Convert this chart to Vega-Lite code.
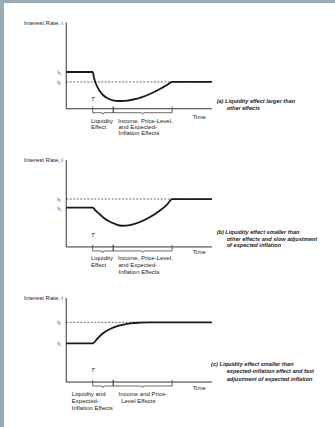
{
  "$schema": "https://vega.github.io/schema/vega-lite/v6.json",
  "background": "#9aabb5",
  "padding": {"left": 4, "top": 3, "right": 0, "bottom": 0},
  "spacing": 0,
  "bounds": "flush",
  "config": {
    "view": {"fill": "white", "stroke": null},
    "text": {"font": "Liberation Sans", "fontSize": 6, "color": "#222"}
  },
  "datasets": {
    "curves": [
      {"p": "a", "t": 0, "r": 4.17}, {"p": "a", "t": 2.0, "r": 4.17}, {"p": "a", "t": 2.1, "r": 3.49},
      {"p": "a", "t": 2.25, "r": 2.81}, {"p": "a", "t": 2.48, "r": 2.13}, {"p": "a", "t": 2.78, "r": 1.56},
      {"p": "a", "t": 3.16, "r": 1.16}, {"p": "a", "t": 3.53, "r": 0.96}, {"p": "a", "t": 3.91, "r": 0.88},
      {"p": "a", "t": 4.43, "r": 0.9}, {"p": "a", "t": 5.05, "r": 1.05}, {"p": "a", "t": 5.72, "r": 1.33},
      {"p": "a", "t": 6.4, "r": 1.73}, {"p": "a", "t": 7.08, "r": 2.24}, {"p": "a", "t": 7.61, "r": 2.7},
      {"p": "a", "t": 8.0, "r": 3.04}, {"p": "a", "t": 11, "r": 3.04},
      {"p": "b", "t": 0, "r": 4.42}, {"p": "b", "t": 2.0, "r": 4.42}, {"p": "b", "t": 2.25, "r": 4.05},
      {"p": "b", "t": 2.55, "r": 3.66}, {"p": "b", "t": 2.85, "r": 3.26}, {"p": "b", "t": 3.16, "r": 2.95},
      {"p": "b", "t": 3.69, "r": 2.59}, {"p": "b", "t": 4.21, "r": 2.39}, {"p": "b", "t": 4.82, "r": 2.47},
      {"p": "b", "t": 5.57, "r": 2.81}, {"p": "b", "t": 6.33, "r": 3.37}, {"p": "b", "t": 7.08, "r": 4.11},
      {"p": "b", "t": 7.61, "r": 4.78}, {"p": "b", "t": 8.0, "r": 5.4}, {"p": "b", "t": 11, "r": 5.4},
      {"p": "c", "t": 0, "r": 4.4}, {"p": "c", "t": 2.02, "r": 4.4}, {"p": "c", "t": 2.33, "r": 4.89},
      {"p": "c", "t": 2.7, "r": 5.45}, {"p": "c", "t": 3.31, "r": 6.02}, {"p": "c", "t": 4.06, "r": 6.42},
      {"p": "c", "t": 4.82, "r": 6.65}, {"p": "c", "t": 5.57, "r": 6.74}, {"p": "c", "t": 6.33, "r": 6.78},
      {"p": "c", "t": 11, "r": 6.78}
    ],
    "axes": [
      {"p": "a", "o": 1, "t": 0, "r": 9.8}, {"p": "a", "o": 2, "t": 0, "r": 0}, {"p": "a", "o": 3, "t": 11, "r": 0},
      {"p": "b", "o": 1, "t": 0, "r": 9.8}, {"p": "b", "o": 2, "t": 0, "r": 0}, {"p": "b", "o": 3, "t": 11, "r": 0},
      {"p": "c", "o": 1, "t": 0, "r": 9.54}, {"p": "c", "o": 2, "t": 0, "r": 0}, {"p": "c", "o": 3, "t": 11, "r": 0}
    ],
    "expected": [
      {"p": "a", "t": 0, "t2": 11, "r": 3.04},
      {"p": "b", "t": 0, "t2": 11, "r": 5.4},
      {"p": "c", "t": 0, "t2": 11, "r": 6.78}
    ],
    "braces": [
      {"b": 1, "o": 1, "t": 2.0, "r": 0.25}, {"b": 1, "o": 2, "t": 2.0, "r": -0.45},
      {"b": 1, "o": 3, "t": 2.7, "r": -0.45}, {"b": 1, "o": 4, "t": 2.775, "r": -0.62},
      {"b": 1, "o": 5, "t": 2.85, "r": -0.45}, {"b": 1, "o": 6, "t": 3.55, "r": -0.45},
      {"b": 1, "o": 7, "t": 3.55, "r": 0.25},
      {"b": 2, "o": 1, "t": 3.55, "r": 0.25}, {"b": 2, "o": 2, "t": 3.55, "r": -0.45},
      {"b": 2, "o": 3, "t": 5.7, "r": -0.45}, {"b": 2, "o": 4, "t": 5.775, "r": -0.62},
      {"b": 2, "o": 5, "t": 5.85, "r": -0.45}, {"b": 2, "o": 6, "t": 8.0, "r": -0.45},
      {"b": 2, "o": 7, "t": 8.0, "r": 0.25}
    ],
    "notes": [
      {"p": "a", "k": "title", "t": -0.25, "r": 9.75, "txt": "Interest Rate, i"},
      {"p": "a", "k": "level", "t": -0.4, "r": 4.17, "txt": "i₁"},
      {"p": "a", "k": "level", "t": -0.4, "r": 3.04, "txt": "i₂"},
      {"p": "a", "k": "T", "t": 2.0, "r": 1.15, "txt": "T"},
      {"p": "a", "k": "time", "t": 9.55, "r": -0.9, "txt": "Time"},
      {"p": "a", "k": "lab", "t": 1.87, "r": -1.4, "txt": "Liquidity"},
      {"p": "a", "k": "lab", "t": 1.87, "r": -2.1, "txt": "Effect"},
      {"p": "a", "k": "lab", "t": 3.91, "r": -1.4, "txt": "Income, Price-Level,"},
      {"p": "a", "k": "lab", "t": 3.95, "r": -2.1, "txt": "and Expected-"},
      {"p": "a", "k": "lab", "t": 3.95, "r": -2.8, "txt": "Inflation Effects"},
      {"p": "a", "k": "cap", "t": 11.36, "r": 0.88, "txt": "(a) Liquidity effect larger than"},
      {"p": "a", "k": "cap", "t": 12.12, "r": 0.09, "txt": "other effects"},
      {"p": "b", "k": "title", "t": -0.25, "r": 9.85, "txt": "Interest Rate, i"},
      {"p": "b", "k": "level", "t": -0.4, "r": 4.42, "txt": "i₁"},
      {"p": "b", "k": "level", "t": -0.4, "r": 5.4, "txt": "i₂"},
      {"p": "b", "k": "T", "t": 2.0, "r": 1.35, "txt": "T"},
      {"p": "b", "k": "time", "t": 9.55, "r": -0.6, "txt": "Time"},
      {"p": "b", "k": "lab", "t": 1.87, "r": -1.3, "txt": "Liquidity"},
      {"p": "b", "k": "lab", "t": 1.87, "r": -2.05, "txt": "Effect"},
      {"p": "b", "k": "lab", "t": 3.91, "r": -1.3, "txt": "Income, Price-Level,"},
      {"p": "b", "k": "lab", "t": 3.95, "r": -2.05, "txt": "and Expected-"},
      {"p": "b", "k": "lab", "t": 3.95, "r": -2.8, "txt": "Inflation Effects"},
      {"p": "b", "k": "cap", "t": 11.36, "r": 1.68, "txt": "(b) Liquidity effect smaller than"},
      {"p": "b", "k": "cap", "t": 12.12, "r": 0.95, "txt": "other effects and slow adjustment"},
      {"p": "b", "k": "cap", "t": 12.12, "r": 0.22, "txt": "of expected inflation"},
      {"p": "c", "k": "title", "t": -0.25, "r": 9.5, "txt": "Interest Rate, i"},
      {"p": "c", "k": "level", "t": -0.4, "r": 4.4, "txt": "i₁"},
      {"p": "c", "k": "level", "t": -0.4, "r": 6.78, "txt": "i₂"},
      {"p": "c", "k": "T", "t": 2.0, "r": 1.37, "txt": "T"},
      {"p": "c", "k": "time", "t": 9.55, "r": -0.65, "txt": "Time"},
      {"p": "c", "k": "lab", "t": 0.42, "r": -1.35, "txt": "Liquidity and"},
      {"p": "c", "k": "lab", "t": 0.42, "r": -2.15, "txt": "Expected-"},
      {"p": "c", "k": "lab", "t": 0.42, "r": -2.95, "txt": "Inflation Effects"},
      {"p": "c", "k": "lab", "t": 3.95, "r": -1.35, "txt": "Income and Price-"},
      {"p": "c", "k": "lab", "t": 4.15, "r": -2.15, "txt": "Level Effects"},
      {"p": "c", "k": "cap", "t": 10.94, "r": 2.05, "txt": "(c) Liquidity effect smaller than"},
      {"p": "c", "k": "cap", "t": 12.12, "r": 1.2, "txt": "expected-inflation effect and fast"},
      {"p": "c", "k": "cap", "t": 12.12, "r": 0.4, "txt": "adjustment of expected inflation"}
    ]
  },
  "vconcat": [
    {
      "width": 331,
      "height": 141,
      "encoding": {
        "x": {"field": "t", "type": "quantitative", "scale": {"domain": [-4.7, 20.3], "nice": false, "zero": false}, "axis": null},
        "y": {"field": "r", "type": "quantitative", "scale": {"domain": [-4, 12], "nice": false, "zero": false}, "axis": null}
      },
      "layer": [
        {"data": {"values": [{}]}, "mark": {"type": "rule", "color": "#111", "strokeWidth": 1.3},
         "encoding": {"x": {"datum": -4.6}, "y": {"datum": -4}, "y2": {"datum": 12}}},
        {"data": {"values": [{}]}, "mark": {"type": "rule", "color": "#111", "strokeWidth": 1.2},
         "encoding": {"x": {"datum": -4.7}, "x2": {"datum": 20.3}, "y": {"datum": 11.93}}},
        {"data": {"name": "expected"}, "transform": [{"filter": "datum.p === 'a'"}],
         "mark": {"type": "rule", "color": "#444", "strokeWidth": 0.8, "strokeDash": [2, 1.5]},
         "encoding": {"x2": {"field": "t2"}}},
        {"data": {"name": "axes"}, "transform": [{"filter": "datum.p === 'a'"}],
         "mark": {"type": "line", "color": "#333", "strokeWidth": 1},
         "encoding": {"order": {"field": "o"}}},
        {"data": {"name": "braces"},
         "mark": {"type": "line", "color": "#444", "strokeWidth": 0.8},
         "encoding": {"detail": {"field": "b"}, "order": {"field": "o"}}},
        {"data": {"name": "curves"}, "transform": [{"filter": "datum.p === 'a'"}],
         "mark": {"type": "line", "color": "#1a1a1a", "strokeWidth": 1.8, "interpolate": "monotone"},
         "encoding": {}},
        {"data": {"name": "notes"}, "transform": [{"filter": "datum.p === 'a' && (datum.k === 'title' || datum.k === 'level')"}],
         "mark": {"type": "text", "align": "right", "baseline": "middle"},
         "encoding": {"text": {"field": "txt"}}},
        {"data": {"name": "notes"}, "transform": [{"filter": "datum.p === 'a' && datum.k === 'T'"}],
         "mark": {"type": "text", "align": "center", "baseline": "middle", "fontStyle": "italic"},
         "encoding": {"text": {"field": "txt"}}},
        {"data": {"name": "notes"}, "transform": [{"filter": "datum.p === 'a' && (datum.k === 'lab' || datum.k === 'time')"}],
         "mark": {"type": "text", "align": "left", "baseline": "middle"},
         "encoding": {"text": {"field": "txt"}}},
        {"data": {"name": "notes"}, "transform": [{"filter": "datum.p === 'a' && datum.k === 'cap'"}],
         "mark": {"type": "text", "align": "left", "baseline": "middle", "fontStyle": "italic", "fontWeight": "bold", "fontSize": 5.6},
         "encoding": {"text": {"field": "txt"}}}
      ]
    },
    {
      "width": 331,
      "height": 142,
      "encoding": {
        "x": {"field": "t", "type": "quantitative", "scale": {"domain": [-4.7, 20.3], "nice": false, "zero": false}, "axis": null},
        "y": {"field": "r", "type": "quantitative", "scale": {"domain": [-4.4, 11.6], "nice": false, "zero": false}, "axis": null}
      },
      "layer": [
        {"data": {"values": [{}]}, "mark": {"type": "rule", "color": "#111", "strokeWidth": 1.3},
         "encoding": {"x": {"datum": -4.6}, "y": {"datum": -4.4}, "y2": {"datum": 11.6}}},
        {"data": {"name": "expected"}, "transform": [{"filter": "datum.p === 'b'"}],
         "mark": {"type": "rule", "color": "#444", "strokeWidth": 0.8, "strokeDash": [2, 1.5]},
         "encoding": {"x2": {"field": "t2"}}},
        {"data": {"name": "axes"}, "transform": [{"filter": "datum.p === 'b'"}],
         "mark": {"type": "line", "color": "#333", "strokeWidth": 1},
         "encoding": {"order": {"field": "o"}}},
        {"data": {"name": "braces"},
         "mark": {"type": "line", "color": "#444", "strokeWidth": 0.8},
         "encoding": {"detail": {"field": "b"}, "order": {"field": "o"}}},
        {"data": {"name": "curves"}, "transform": [{"filter": "datum.p === 'b'"}],
         "mark": {"type": "line", "color": "#1a1a1a", "strokeWidth": 1.8, "interpolate": "monotone"},
         "encoding": {}},
        {"data": {"name": "notes"}, "transform": [{"filter": "datum.p === 'b' && (datum.k === 'title' || datum.k === 'level')"}],
         "mark": {"type": "text", "align": "right", "baseline": "middle"},
         "encoding": {"text": {"field": "txt"}}},
        {"data": {"name": "notes"}, "transform": [{"filter": "datum.p === 'b' && datum.k === 'T'"}],
         "mark": {"type": "text", "align": "center", "baseline": "middle", "fontStyle": "italic"},
         "encoding": {"text": {"field": "txt"}}},
        {"data": {"name": "notes"}, "transform": [{"filter": "datum.p === 'b' && (datum.k === 'lab' || datum.k === 'time')"}],
         "mark": {"type": "text", "align": "left", "baseline": "middle"},
         "encoding": {"text": {"field": "txt"}}},
        {"data": {"name": "notes"}, "transform": [{"filter": "datum.p === 'b' && datum.k === 'cap'"}],
         "mark": {"type": "text", "align": "left", "baseline": "middle", "fontStyle": "italic", "fontWeight": "bold", "fontSize": 5.6},
         "encoding": {"text": {"field": "txt"}}}
      ]
    },
    {
      "width": 331,
      "height": 141,
      "encoding": {
        "x": {"field": "t", "type": "quantitative", "scale": {"domain": [-4.7, 20.3], "nice": false, "zero": false}, "axis": null},
        "y": {"field": "r", "type": "quantitative", "scale": {"domain": [-5.1, 10.9], "nice": false, "zero": false}, "axis": null}
      },
      "layer": [
        {"data": {"values": [{}]}, "mark": {"type": "rule", "color": "#111", "strokeWidth": 1.3},
         "encoding": {"x": {"datum": -4.6}, "y": {"datum": -5.1}, "y2": {"datum": 10.9}}},
        {"data": {"name": "expected"}, "transform": [{"filter": "datum.p === 'c'"}],
         "mark": {"type": "rule", "color": "#444", "strokeWidth": 0.8, "strokeDash": [2, 1.5]},
         "encoding": {"x2": {"field": "t2"}}},
        {"data": {"name": "axes"}, "transform": [{"filter": "datum.p === 'c'"}],
         "mark": {"type": "line", "color": "#333", "strokeWidth": 1},
         "encoding": {"order": {"field": "o"}}},
        {"data": {"name": "braces"},
         "mark": {"type": "line", "color": "#444", "strokeWidth": 0.8},
         "encoding": {"detail": {"field": "b"}, "order": {"field": "o"}}},
        {"data": {"name": "curves"}, "transform": [{"filter": "datum.p === 'c'"}],
         "mark": {"type": "line", "color": "#1a1a1a", "strokeWidth": 1.8, "interpolate": "monotone"},
         "encoding": {}},
        {"data": {"name": "notes"}, "transform": [{"filter": "datum.p === 'c' && (datum.k === 'title' || datum.k === 'level')"}],
         "mark": {"type": "text", "align": "right", "baseline": "middle"},
         "encoding": {"text": {"field": "txt"}}},
        {"data": {"name": "notes"}, "transform": [{"filter": "datum.p === 'c' && datum.k === 'T'"}],
         "mark": {"type": "text", "align": "center", "baseline": "middle", "fontStyle": "italic"},
         "encoding": {"text": {"field": "txt"}}},
        {"data": {"name": "notes"}, "transform": [{"filter": "datum.p === 'c' && (datum.k === 'lab' || datum.k === 'time')"}],
         "mark": {"type": "text", "align": "left", "baseline": "middle"},
         "encoding": {"text": {"field": "txt"}}},
        {"data": {"name": "notes"}, "transform": [{"filter": "datum.p === 'c' && datum.k === 'cap'"}],
         "mark": {"type": "text", "align": "left", "baseline": "middle", "fontStyle": "italic", "fontWeight": "bold", "fontSize": 5.6},
         "encoding": {"text": {"field": "txt"}}}
      ]
    }
  ]
}
